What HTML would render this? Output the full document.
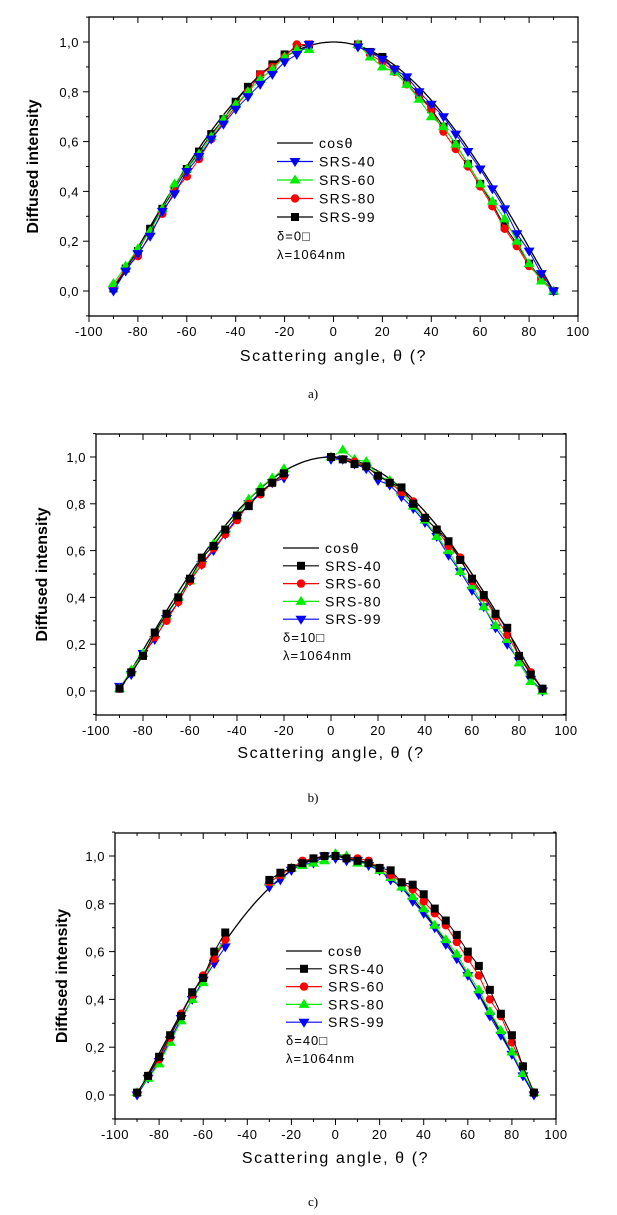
<!DOCTYPE html>
<html><head><meta charset="utf-8">
<style>
body{margin:0;background:#fff;width:617px;height:1215px;overflow:hidden}
svg{display:block;font-family:"Liberation Sans",Arial,sans-serif}
</style></head>
<body>
<svg id="root" width="617" height="1215"></svg>
<script>
// ---- data ----
const angleA = [-90,-85,-80,-75,-70,-65,-60,-55,-50,-45,-40,-35,-30,-25,-20,-15,-10,null,10,15,20,25,30,35,40,45,50,55,60,65,70,75,80,85,90];
const a_srs40 = [0.0,0.08,0.15,0.22,0.32,0.39,0.48,0.54,0.61,0.67,0.73,0.78,0.83,0.87,0.92,0.95,0.99,null,0.98,0.96,0.93,0.89,0.86,0.80,0.75,0.70,0.63,0.56,0.49,0.41,0.33,0.23,0.16,0.07,0.0];
const a_srs60 = [0.03,0.10,0.17,0.24,0.33,0.43,0.49,0.55,0.62,0.69,0.75,0.80,0.85,0.89,0.94,0.97,0.97,null,0.99,0.94,0.90,0.88,0.83,0.77,0.70,0.66,0.59,0.51,0.43,0.36,0.29,0.20,0.11,0.04,0.0];
const a_srs80 = [0.02,0.09,0.14,0.23,0.31,0.40,0.46,0.53,0.61,0.68,0.74,0.80,0.87,0.90,0.94,0.99,0.99,null,0.99,0.95,0.92,0.88,0.83,0.78,0.73,0.64,0.57,0.50,0.42,0.34,0.25,0.18,0.10,0.05,0.0];
const a_srs99 = [0.01,0.09,0.16,0.25,0.33,0.41,0.49,0.56,0.63,0.69,0.76,0.82,0.87,0.91,0.95,0.98,0.99,null,0.99,0.96,0.94,0.89,0.84,0.79,0.73,0.66,0.59,0.51,0.43,0.35,0.26,0.19,0.11,0.05,0.0];

const angleB = [-90,-85,-80,-75,-70,-65,-60,-55,-50,-45,-40,-35,-30,-25,-20,null,0,5,10,15,20,25,30,35,40,45,50,55,60,65,70,75,80,85,90];
const b_srs40 = [0.01,0.08,0.15,0.25,0.33,0.40,0.48,0.57,0.62,0.69,0.75,0.79,0.85,0.89,0.93,null,1.0,0.99,0.97,0.96,0.92,0.89,0.87,0.80,0.74,0.69,0.64,0.56,0.48,0.41,0.33,0.27,0.15,0.07,0.01];
const b_srs60 = [0.01,0.08,0.15,0.23,0.30,0.38,0.47,0.54,0.61,0.67,0.73,0.80,0.84,0.89,0.92,null,1.0,0.99,0.98,0.96,0.92,0.89,0.85,0.81,0.74,0.69,0.62,0.57,0.47,0.40,0.32,0.24,0.15,0.08,0.01];
const b_srs80 = [0.01,0.09,0.16,0.24,0.32,0.40,0.47,0.56,0.63,0.69,0.75,0.82,0.87,0.91,0.95,null,1.0,1.03,0.99,0.98,0.92,0.90,0.85,0.79,0.73,0.66,0.60,0.51,0.45,0.36,0.28,0.22,0.12,0.04,0.0];
const b_srs99 = [0.02,0.07,0.16,0.22,0.31,0.38,0.47,0.54,0.60,0.67,0.74,0.80,0.85,0.89,0.91,null,0.99,0.99,0.97,0.95,0.90,0.88,0.83,0.78,0.72,0.66,0.58,0.51,0.43,0.36,0.27,0.20,0.13,0.05,0.0];

const angleC = [-90,-85,-80,-75,-70,-65,-60,-55,-50,null,-30,-25,-20,-15,-10,-5,0,5,10,15,20,25,30,35,40,45,50,55,60,65,70,75,80,85,90];
const c_srs40 = [0.01,0.08,0.16,0.25,0.33,0.43,0.49,0.60,0.68,null,0.90,0.93,0.95,0.97,0.99,1.0,1.0,0.99,0.98,0.97,0.95,0.94,0.89,0.88,0.84,0.78,0.73,0.67,0.60,0.54,0.44,0.34,0.25,0.12,0.01];
const c_srs60 = [0.01,0.08,0.15,0.24,0.34,0.42,0.50,0.57,0.65,null,0.89,0.92,0.95,0.98,0.99,1.0,1.0,0.99,0.99,0.98,0.95,0.92,0.89,0.86,0.81,0.76,0.71,0.64,0.57,0.50,0.40,0.33,0.22,0.12,0.01];
const c_srs80 = [0.01,0.07,0.13,0.22,0.31,0.40,0.47,0.58,0.66,null,0.89,0.92,0.95,0.96,0.97,0.98,1.01,1.0,0.97,0.97,0.94,0.91,0.87,0.83,0.78,0.71,0.65,0.59,0.51,0.44,0.35,0.27,0.18,0.09,0.01];
const c_srs99 = [0.0,0.07,0.14,0.23,0.32,0.40,0.48,0.55,0.62,null,0.87,0.90,0.94,0.97,0.97,1.0,0.99,0.98,0.98,0.96,0.94,0.90,0.87,0.81,0.76,0.70,0.63,0.57,0.50,0.42,0.33,0.25,0.17,0.08,0.0];

const xTicks = [-100,-80,-60,-40,-20,0,20,40,60,80,100];
const yTicks = [0,0.2,0.4,0.6,0.8,1.0];
const yTickLabels = ["0,0","0,2","0,4","0,6","0,8","1,0"];

const NS = "http://www.w3.org/2000/svg";
const root = document.getElementById('root');
function mk(tag, attrs, parent){const e=document.createElementNS(NS,tag);for(const k in attrs)e.setAttribute(k,attrs[k]);(parent||root).appendChild(e);return e;}

const COL = {black:"#000", red:"#ff0000", green:"#00ee00", blue:"#0000ff"};

function marker(g, shape, cx, cy, col){
  const s=4.5;
  let el;
  if(shape==='square') el=mk('rect',{x:cx-s+0.5,y:cy-s+0.5,width:2*s-1,height:2*s-1,fill:col},g);
  else if(shape==='circle') el=mk('circle',{cx:cx,cy:cy,r:s-0.3,fill:col},g);
  else if(shape==='up') el=mk('polygon',{points:`${cx},${cy-s-1} ${cx-s-1},${cy+s-1} ${cx+s+1},${cy+s-1}`,fill:col},g);
  else el=mk('polygon',{points:`${cx-s-1},${cy-s+1} ${cx+s+1},${cy-s+1} ${cx},${cy+s+1}`,fill:col},g);
  
  
}

function chart(cfg){
  const g = mk('g',{});
  
  
  const {x0,x1,top,bot,y1,y0} = cfg;
  const sx = v => x0 + (v+100)/200*(x1-x0);
  const sy = v => y0 + (y1-y0)*v;
  // frame
  const fr = mk('rect',{x:x0,y:top,width:x1-x0,height:bot-top,fill:"none",stroke:"#000","stroke-width":1.3},g);
   
  // x ticks
  for(let i=0;i<xTicks.length;i++){
    const v=xTicks[i], X=sx(v);
    mk('line',{x1:X,y1:bot,x2:X,y2:bot+6,stroke:"#000"},g);
    mk('line',{x1:X,y1:top,x2:X,y2:top+6,stroke:"#000"},g);
    if(i<xTicks.length-1){const m=sx(v+10);mk('line',{x1:m,y1:bot,x2:m,y2:bot+3,stroke:"#000"},g);mk('line',{x1:m,y1:top,x2:m,y2:top+3,stroke:"#000"},g);}
    const t=mk('text',{x:X,y:bot+20,"text-anchor":"middle","font-size":"13","letter-spacing":"0.5",fill:"#000"},g);
    t.textContent=String(v);
     
  }
  // y ticks
  for(let i=0;i<yTicks.length;i++){
    const Y=sy(yTicks[i]);
    mk('line',{x1:x0-6,y1:Y,x2:x0,y2:Y,stroke:"#000"},g);
    mk('line',{x1:x1-6,y1:Y,x2:x1,y2:Y,stroke:"#000"},g);
    const t=mk('text',{x:x0-10,y:Y+5,"text-anchor":"end","font-size":"13","letter-spacing":"0.5",fill:"#000"},g);
    t.textContent=yTickLabels[i];
     
  }
  for(let v=-0.1; v<1.15; v+=0.2){const Y=sy(v);mk('line',{x1:x0-3,y1:Y,x2:x0,y2:Y,stroke:"#000"},g);mk('line',{x1:x1-3,y1:Y,x2:x1,y2:Y,stroke:"#000"},g);}
  // cos line
  let d="";
  for(let a=-90;a<=90;a+=1){d+=(a===-90?"M":"L")+sx(a).toFixed(1)+","+sy(Math.cos(a*Math.PI/180)).toFixed(1);}
  const cl=mk('path',{d:d,fill:"none",stroke:"#000","stroke-width":1.3},g);
   
  // series (reverse so first legend entry on top)
  for(let si=cfg.series.length-1; si>=0; si--){
    const s=cfg.series[si];
    const sg=mk('g',{},g);
    
    
    let p="", pen=false;
    for(let i=0;i<cfg.angles.length;i++){
      const a=cfg.angles[i], v=s.values[i];
      if(a===null||v===null){pen=false;continue;}
      p+=(pen?"L":"M")+sx(a).toFixed(1)+","+sy(v).toFixed(1); pen=true;
    }
    mk('path',{d:p,fill:"none",stroke:s.color,"stroke-width":1},sg);
    for(let i=0;i<cfg.angles.length;i++){
      const a=cfg.angles[i], v=s.values[i];
      if(a===null||v===null) continue;
      marker(sg,s.shape,sx(a),sy(v),s.color);
    }
  }
  // legend
  const lg=mk('g',{},g);
   
  const L=cfg.legend;
  const rows=[{label:"cos\u03b8",color:"#000",shape:null}].concat(cfg.series);
  rows.forEach((r,i)=>{
    const Y=L.y+i*L.dy;
    mk('line',{x1:L.x,y1:Y,x2:L.x+36,y2:Y,stroke:r.color,"stroke-width":1.2},lg);
    if(r.shape) marker(lg,r.shape,L.x+18,Y,r.color);
    const t=mk('text',{x:L.x+42,y:Y+5,"font-size":"14","letter-spacing":"1.3",fill:"#000"},lg);
    t.textContent=r.label;
     
  });
  const d1=mk('text',{x:L.x,y:L.y+5*L.dy+5,"font-size":"13","letter-spacing":"1",fill:"#000"},lg);
  d1.textContent=cfg.delta+"\u25a1";
   
  const d2=mk('text',{x:L.x,y:L.y+6*L.dy+5,"font-size":"13","letter-spacing":"1",fill:"#000"},lg);
  d2.textContent="\u03bb=1064nm";
   
  // axis titles
  const xt=mk('text',{x:(x0+x1)/2,y:cfg.xtY,"text-anchor":"middle","font-size":"16","letter-spacing":"1.6",fill:"#000"},g);
  xt.textContent="Scattering angle, \u03b8 (?";
   
  const yc=(top+bot)/2;
  const yt=mk('text',{x:cfg.ytX,y:yc,"text-anchor":"middle","font-size":"16","font-weight":"bold",fill:"#000",transform:`rotate(-90 ${cfg.ytX} ${yc})`},g);
  yt.textContent="Diffused intensity";
   
  const cap=mk('text',{x:cfg.capX,y:cfg.capY,"text-anchor":"middle","font-size":"13","font-family":"Liberation Serif, serif",fill:"#000"},g);
  cap.textContent=cfg.caption;
   
}

chart({name:'chart-a', x0:89,x1:578,top:17,bot:316,y1:42,y0:291, angles:angleA,
  series:[{label:"SRS-40",color:COL.blue,shape:'down',values:a_srs40},
          {label:"SRS-60",color:COL.green,shape:'up',values:a_srs60},
          {label:"SRS-80",color:COL.red,shape:'circle',values:a_srs80},
          {label:"SRS-99",color:COL.black,shape:'square',values:a_srs99}],
  legend:{x:277,y:143,dy:18.5}, delta:"\u03b4=0", xtY:361, ytX:38, caption:"a)", capX:313, capY:398});

chart({name:'chart-b', x0:96,x1:566,top:434,bot:715,y1:457,y0:691, angles:angleB,
  series:[{label:"SRS-40",color:COL.black,shape:'square',values:b_srs40},
          {label:"SRS-60",color:COL.red,shape:'circle',values:b_srs60},
          {label:"SRS-80",color:COL.green,shape:'up',values:b_srs80},
          {label:"SRS-99",color:COL.blue,shape:'down',values:b_srs99}],
  legend:{x:283,y:548,dy:17.8}, delta:"\u03b4=10", xtY:758, ytX:47, caption:"b)", capX:313, capY:802});

chart({name:'chart-c', x0:115,x1:556,top:833,bot:1119,y1:856,y0:1095, angles:angleC,
  series:[{label:"SRS-40",color:COL.black,shape:'square',values:c_srs40},
          {label:"SRS-60",color:COL.red,shape:'circle',values:c_srs60},
          {label:"SRS-80",color:COL.green,shape:'up',values:c_srs80},
          {label:"SRS-99",color:COL.blue,shape:'down',values:c_srs99}],
  legend:{x:286,y:951,dy:17.8}, delta:"\u03b4=40", xtY:1163, ytX:67, caption:"c)", capX:313, capY:1206});
</script>
</body></html>
